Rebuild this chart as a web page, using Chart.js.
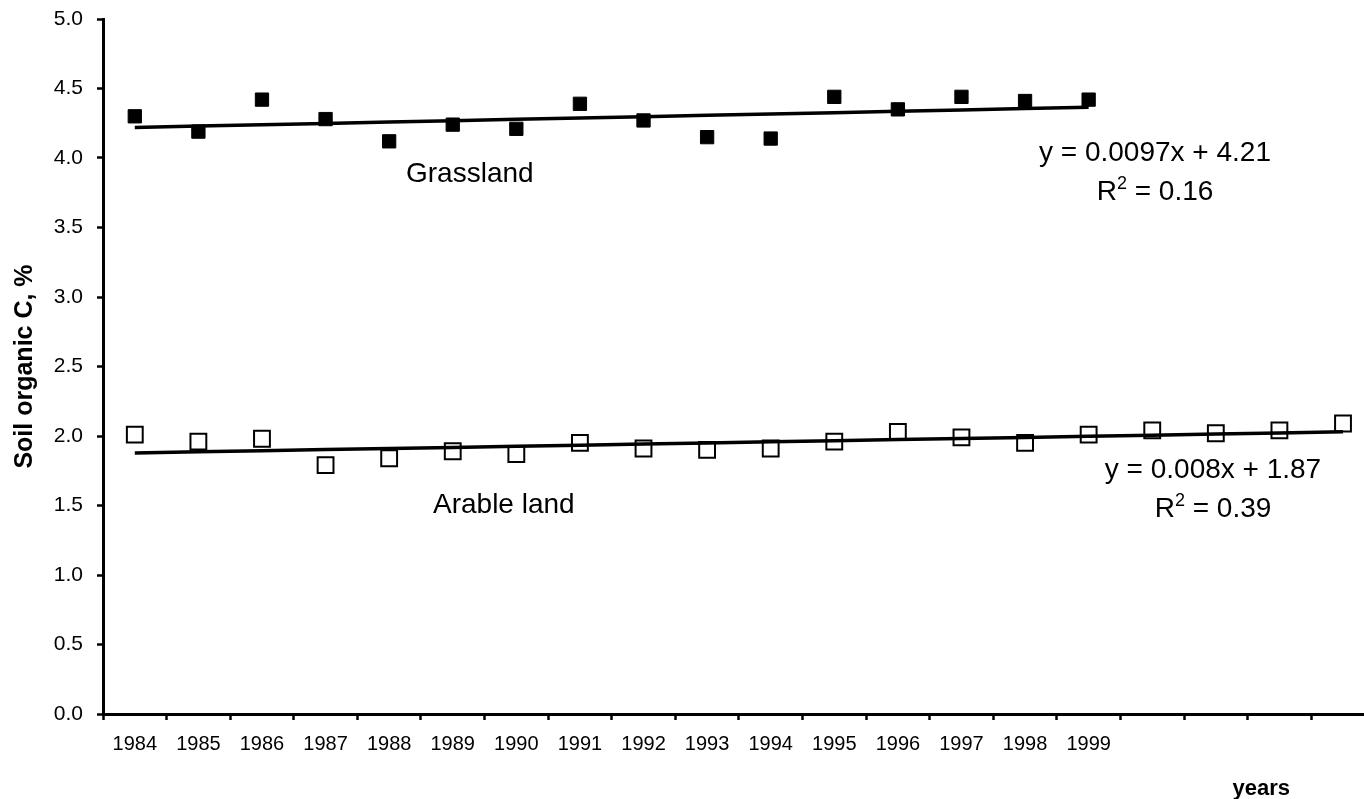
<!DOCTYPE html>
<html>
<head>
<meta charset="utf-8">
<title>Soil organic C</title>
<script src="https://cdn.jsdelivr.net/npm/chart.js@4.4.1/dist/chart.umd.min.js"></script>
<style>
  html, body { margin: 0; padding: 0; background: #fff; overflow: hidden; }
  #wrap { position: relative; width: 1364px; height: 799px; overflow: hidden; }
  #soilChart { position: absolute; left: 0; top: 0; }
</style>
</head>
<body>
<div id="wrap"><canvas id="soilChart" width="1388" height="799"></canvas></div>
<script>
// years sampled (only 1984-1999 carry a printed label)
const years = [1984, 1985, 1986, 1987, 1988, 1989, 1990, 1991, 1992, 1993,
               1994, 1995, 1996, 1997, 1998, 1999, 2000, 2001, 2002, 2003];
const yearLabels = ['1984', '1985', '1986', '1987', '1988', '1989', '1990', '1991',
                    '1992', '1993', '1994', '1995', '1996', '1997', '1998', '1999',
                    '', '', '', ''];

// soil organic C, %
const grassland = [4.30, 4.19, 4.42, 4.28, 4.12, 4.24, 4.21, 4.39,
                   4.27, 4.15, 4.14, 4.44, 4.35, 4.44, 4.41, 4.42];
const arable = [2.01, 1.96, 1.98, 1.79, 1.84, 1.89, 1.87, 1.95, 1.91, 1.90,
                1.91, 1.96, 2.03, 1.99, 1.95, 2.01, 2.04, 2.02, 2.04, 2.09];

// linear trends y = a*x + b (x = 1 for 1984)
const grassFit = { a: 0.0097, b: 4.21, r2: '0.16' };
const arableFit = { a: 0.008, b: 1.87, r2: '0.39' };

const trend = (fit, n) => years.slice(0, n).map((_, i) => fit.b + fit.a * (i + 1));

const FONT = '"Liberation Sans", Arial, sans-serif';

// equation text, with a raised "2" in R²
function drawR2(ctx, cx, baseY, value) {
  ctx.font = '28px ' + FONT;
  const wR = ctx.measureText('R').width;
  const rest = ' = ' + value;
  const wRest = ctx.measureText(rest).width;
  ctx.font = '18px ' + FONT;
  const w2 = ctx.measureText('2').width;
  let x = cx - (wR + w2 + wRest) / 2;
  ctx.textAlign = 'left';
  ctx.font = '28px ' + FONT;
  ctx.fillText('R', x, baseY);
  x += wR;
  ctx.font = '18px ' + FONT;
  ctx.fillText('2', x, baseY - 11);
  x += w2;
  ctx.font = '28px ' + FONT;
  ctx.fillText(rest, x, baseY);
}

const notes = {
  id: 'notes',
  afterDraw(chart) {
    const ctx = chart.ctx;
    ctx.save();
    ctx.fillStyle = '#000';
    ctx.textBaseline = 'alphabetic';
    ctx.font = '28px ' + FONT;
    ctx.textAlign = 'left';
    ctx.fillText('Grassland', 406, 182);
    ctx.fillText('Arable land', 433, 513);
    ctx.textAlign = 'center';
    ctx.fillText('y = ' + grassFit.a + 'x + ' + grassFit.b, 1155, 161);
    drawR2(ctx, 1155, 200, grassFit.r2);
    ctx.textAlign = 'center';
    ctx.font = '28px ' + FONT;
    ctx.fillText('y = ' + arableFit.a + 'x + ' + arableFit.b, 1213, 478);
    drawR2(ctx, 1213, 517, arableFit.r2);
    // x axis name
    ctx.font = 'bold 22px ' + FONT;
    ctx.textAlign = 'right';
    ctx.fillText('years', 1290, 795);
    ctx.restore();
  }
};

new Chart(document.getElementById('soilChart'), {
  type: 'line',
  data: {
    labels: yearLabels,
    datasets: [
      {
        label: 'Grassland trend',
        data: trend(grassFit, grassland.length),
        borderColor: '#000',
        borderWidth: 3.5,
        pointRadius: 0,
        fill: false
      },
      {
        label: 'Arable trend',
        data: trend(arableFit, arable.length),
        borderColor: '#000',
        borderWidth: 3.5,
        pointRadius: 0,
        fill: false
      },
      {
        label: 'Grassland',
        data: grassland,
        showLine: false,
        pointStyle: 'rect',
        pointRadius: 9.4,
        pointBackgroundColor: '#000',
        pointBorderColor: '#000',
        pointBorderWidth: 1
      },
      {
        label: 'Arable land',
        data: arable,
        showLine: false,
        pointStyle: 'rect',
        pointRadius: 11.2,
        pointBackgroundColor: '#fff',
        pointBorderColor: '#000',
        pointBorderWidth: 2
      }
    ]
  },
  options: {
    responsive: false,
    animation: false,
    devicePixelRatio: 1,
    layout: { padding: { left: 0, top: 19, right: 4, bottom: 0 } },
    plugins: {
      legend: { display: false },
      tooltip: { enabled: false }
    },
    scales: {
      x: {
        type: 'category',
        offset: true,
        grid: {
          offset: true,
          drawOnChartArea: false,
          drawTicks: true,
          tickLength: 6,
          tickWidth: 2.5,
          tickColor: '#000'
        },
        border: { display: true, color: '#000', width: 3 },
        ticks: {
          autoSkip: false,
          maxRotation: 0,
          color: '#000',
          padding: 12,
          font: { family: FONT, size: 20 }
        },
        afterFit(scale) {
          scale.height = 85;
          scale.paddingLeft = 0;
          scale.paddingRight = 0;
        }
      },
      y: {
        min: 0,
        max: 5,
        grid: {
          drawOnChartArea: false,
          drawTicks: true,
          tickLength: 6,
          tickWidth: 2.5,
          tickColor: '#000'
        },
        border: { display: true, color: '#000', width: 3 },
        ticks: {
          stepSize: 0.5,
          color: '#000',
          padding: 14,
          font: { family: FONT, size: 21 },
          callback: v => v.toFixed(1)
        },
        title: {
          display: true,
          text: 'Soil organic C, %',
          color: '#000',
          padding: { top: 10, bottom: 0 },
          font: { family: FONT, size: 25, weight: 'bold' }
        },
        afterFit(scale) {
          scale.width = 103;
          scale.paddingTop = 0;
          scale.paddingBottom = 0;
        }
      }
    }
  },
  plugins: [notes]
});
</script>
</body>
</html>
